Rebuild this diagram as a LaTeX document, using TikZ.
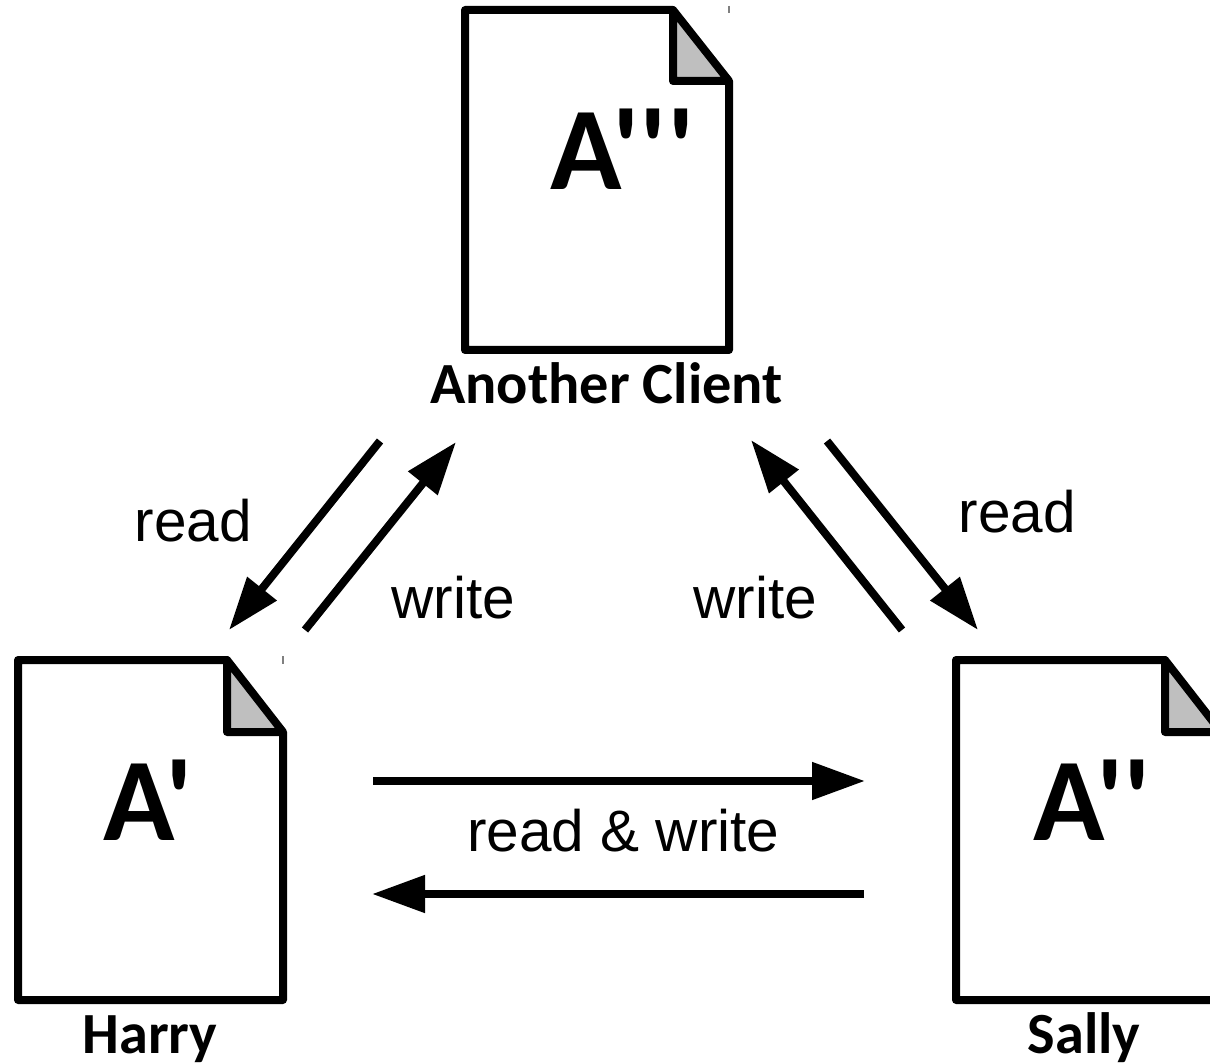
\documentclass[tikz,border=0pt]{standalone}
\usepackage{fontspec}
\usetikzlibrary{arrows.meta}
\newfontfamily\boldlab[RawFeature=-liga]{Carlito}
\newfontfamily\armo{Liberation Sans}
\tikzset{
  x=1pt,y=-1pt,
  docline/.style={draw=black,line width=8pt,line join=round,line cap=round},
  foldfill/.style={fill=black!25,draw=none},
  tick/.style={draw=black!50,line width=1.2pt},
  letter/.style={font=\boldlab\fontsize{118}{118}\selectfont\bfseries,text=black,inner sep=0pt,anchor=base},
  owner/.style={font=\boldlab\fontsize{58.3}{58}\selectfont\bfseries,text=black,inner sep=0pt,anchor=base,text depth=0pt},
  lab/.style={font=\armo\fontsize{58.5}{58}\selectfont,text=black,inner sep=0pt,anchor=base},
  conn/.style={draw=black,line width=8pt,-{Triangle[length=53pt,width=36pt]}},
}
\begin{document}
\begin{tikzpicture}
\clip (0,0) rectangle (1210,1064);
\fill[white] (0,0) rectangle (1210,1064);
% top document
\path[foldfill] (673,10) -- (729,81) -- (673,81) -- cycle;
\draw[docline] (673,10) -- (465,10) -- (465,350) -- (729,350) -- (729,81) -- (673,10) -- (673,81) -- (729,81);
\draw[tick] (729,6) -- (729,13);
\node[letter] (atop) at (622.5,190) {A'''};
\node[owner] (ntop) at (606.5,403) {Another Client};
% left document
\path[foldfill] (227,660) -- (283,732) -- (227,732) -- cycle;
\draw[docline] (227,660) -- (18,660) -- (18,1000) -- (283,1000) -- (283,732) -- (227,660) -- (227,732) -- (283,732);
\draw[tick] (283,656) -- (283,664);
\node[letter] (aleft) at (148.5,840) {A'};
\node[owner] (nleft) at (150,1053) {Harry};
% right document
\path[foldfill] (1165,660) -- (1221,732) -- (1165,732) -- cycle;
\draw[docline] (1165,660) -- (956,660) -- (956,1000) -- (1221,1000) -- (1221,732) -- (1165,660) -- (1165,732) -- (1221,732);
\node[letter] (aright) at (1092.5,840) {A''};
\node[owner] (nright) at (1084,1053) {Sally};
% connector ends
\coordinate (a1) at (380,441);
\coordinate (a2) at (229,630);
\coordinate (b1) at (305,630);
\coordinate (b2) at (456,442);
\coordinate (c1) at (902,630);
\coordinate (c2) at (751,440);
\coordinate (d1) at (827,441);
\coordinate (d2) at (978,630);
\coordinate (e1) at (373,781);
\coordinate (e2) at (865,781);
\coordinate (f1) at (864,894);
\coordinate (f2) at (372,894);
\draw[conn] (a1) -- (a2);
\draw[conn] (b1) -- (b2);
\draw[conn] (c1) -- (c2);
\draw[conn] (d1) -- (d2);
\draw[conn] (e1) -- (e2);
\draw[conn] (f1) -- (f2);
% labels
\node[lab] (l1) at (193.5,541) {read};
\node[lab] (l2) at (453.5,618) {write};
\node[lab] (l3) at (755.5,618) {write};
\node[lab] (l4) at (1017.5,532) {read};
\node[lab] (l5) at (623.5,851) {read \& write};
\end{tikzpicture}
\end{document}
